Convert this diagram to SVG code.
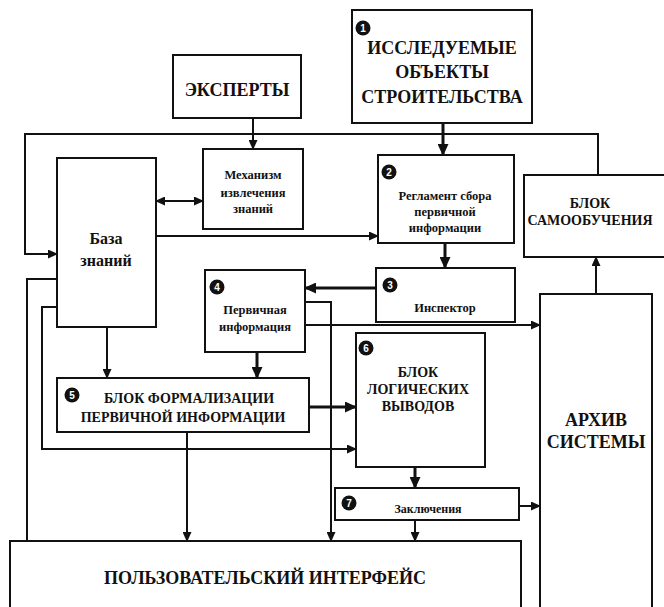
<svg xmlns="http://www.w3.org/2000/svg" width="664" height="607" viewBox="0 0 664 607">
<style>
.box{fill:#fff;stroke:#111;stroke-width:2}
.t{font-family:"Liberation Serif","Times New Roman","DejaVu Serif",serif;font-weight:bold;fill:#111;text-anchor:middle}
.big{font-size:18px}
.mid{font-size:14px}
.sm{font-size:12.5px}
.c{fill:none;stroke:#111;stroke-width:2}
.th{stroke-width:3}
.bd{fill:#111}
.bt{font-family:"Liberation Sans",sans-serif;font-weight:bold;font-size:10px;fill:#fff;text-anchor:middle}
</style>
<defs>
<marker id="a" markerUnits="userSpaceOnUse" markerWidth="10" markerHeight="9" refX="9" refY="4.5" orient="auto-start-reverse"><path d="M0,0 L10,4.5 L0,9 z" fill="#111"/></marker>
<marker id="ab" markerUnits="userSpaceOnUse" markerWidth="12" markerHeight="11" refX="11" refY="5.5" orient="auto-start-reverse"><path d="M0,0 L12,5.5 L0,11 z" fill="#111"/></marker>
</defs>
<rect width="664" height="607" fill="#fff"/>
<g id="connectors">
<path class="c" d="M253,118 V149" marker-end="url(#a)"/>
<path class="c th" d="M443,123 V155" marker-end="url(#ab)"/>
<path class="c" d="M598,175 V134 H25 V254 H57" marker-end="url(#a)"/>
<path class="c" d="M156,201 H203" marker-start="url(#a)" marker-end="url(#a)"/>
<path class="c" d="M156,236 H378" marker-end="url(#a)"/>
<path class="c th" d="M445,243 V268" marker-end="url(#ab)"/>
<path class="c th" d="M376,288 H305" marker-end="url(#ab)"/>
<path class="c" d="M305,302 H331 V541" marker-end="url(#a)"/>
<path class="c" d="M305,325 H540" marker-end="url(#a)"/>
<path class="c th" d="M257,352 V378" marker-end="url(#ab)"/>
<path class="c" d="M107,327 V378" marker-end="url(#a)"/>
<path class="c th" d="M309,407 H356" marker-end="url(#ab)"/>
<path class="c" d="M57,307 H42 V449 H356" marker-end="url(#a)"/>
<path class="c" d="M57,279 H27 V541"/>
<path class="c" d="M187,432 V541" marker-end="url(#a)"/>
<path class="c th" d="M415,467 V488" marker-end="url(#ab)"/>
<path class="c" d="M519,506 H540" marker-end="url(#a)"/>
<path class="c" d="M415,520 V541" marker-end="url(#a)"/>
<path class="c" d="M596,294 V257" marker-end="url(#a)"/>
</g>
<g id="experts">
<rect class="box" x="173" y="55" width="128" height="63"/>
<text class="t big" x="237" y="96">ЭКСПЕРТЫ</text>
</g>
<g id="objects">
<rect class="box" x="352" y="10" width="180" height="113"/>
<circle class="bd" cx="363" cy="28" r="7.5"/><text class="bt" x="363" y="31.5">1</text>
<text class="t big" x="442" y="54">ИССЛЕДУЕМЫЕ</text>
<text class="t big" x="442" y="78">ОБЪЕКТЫ</text>
<text class="t big" x="442" y="103">СТРОИТЕЛЬСТВА</text>
</g>
<g id="mechanism">
<rect class="box" x="203" y="149" width="100" height="80"/>
<text class="t sm" x="253" y="179">Механизм</text>
<text class="t sm" x="253" y="197">извлечения</text>
<text class="t sm" x="253" y="213">знаний</text>
</g>
<g id="kb">
<rect class="box" x="57" y="158" width="99" height="169"/>
<text class="t" style="font-size:16px" x="106" y="244">База</text>
<text class="t" style="font-size:16px" x="106" y="266">знаний</text>
</g>
<g id="reglament">
<rect class="box" x="378" y="155" width="136" height="88"/>
<circle class="bd" cx="389" cy="172" r="7.5"/><text class="bt" x="389" y="175.5">2</text>
<text class="t sm" x="445" y="200">Регламент сбора</text>
<text class="t sm" x="445" y="216">первичной</text>
<text class="t sm" x="445" y="232">информации</text>
</g>
<g id="selflearn">
<rect class="box" x="524" y="175" width="142" height="82"/>
<text class="t mid" x="590" y="208">БЛОК</text>
<text class="t mid" x="590" y="225">САМООБУЧЕНИЯ</text>
</g>
<g id="inspector">
<rect class="box" x="376" y="268" width="139" height="54"/>
<circle class="bd" cx="390" cy="285" r="7.5"/><text class="bt" x="390" y="288.5">3</text>
<text class="t sm" x="445" y="312">Инспектор</text>
</g>
<g id="primary">
<rect class="box" x="205" y="270" width="100" height="82"/>
<circle class="bd" cx="217" cy="287" r="7.5"/><text class="bt" x="217" y="290.5">4</text>
<text class="t sm" x="255" y="314">Первичная</text>
<text class="t sm" x="255" y="331">информация</text>
</g>
<g id="formalization">
<rect class="box" x="57" y="378" width="252" height="54"/>
<circle class="bd" cx="72" cy="395" r="7.5"/><text class="bt" x="72" y="398.5">5</text>
<text class="t mid" x="189" y="403">БЛОК ФОРМАЛИЗАЦИИ</text>
<text class="t mid" x="183" y="422">ПЕРВИЧНОЙ ИНФОРМАЦИИ</text>
</g>
<g id="logic">
<rect class="box" x="356" y="333" width="129" height="134"/>
<circle class="bd" cx="366" cy="348" r="7.5"/><text class="bt" x="366" y="351.5">6</text>
<text class="t mid" x="418" y="377">БЛОК</text>
<text class="t mid" x="418" y="394">ЛОГИЧЕСКИХ</text>
<text class="t mid" x="418" y="411">ВЫВОДОВ</text>
</g>
<g id="archive">
<rect class="box" x="540" y="294" width="112" height="320"/>
<text class="t big" x="596" y="426">АРХИВ</text>
<text class="t big" x="596" y="448">СИСТЕМЫ</text>
</g>
<g id="conclusions">
<rect class="box" x="335" y="488" width="184" height="32"/>
<circle class="bd" cx="349" cy="503" r="7.5"/><text class="bt" x="349" y="506.5">7</text>
<text class="t" style="font-size:12px" x="428" y="513">Заключения</text>
</g>
<g id="interface">
<rect class="box" x="10" y="541" width="511" height="75"/>
<text class="t big" x="265" y="584">ПОЛЬЗОВАТЕЛЬСКИЙ ИНТЕРФЕЙС</text>
</g>
</svg>
